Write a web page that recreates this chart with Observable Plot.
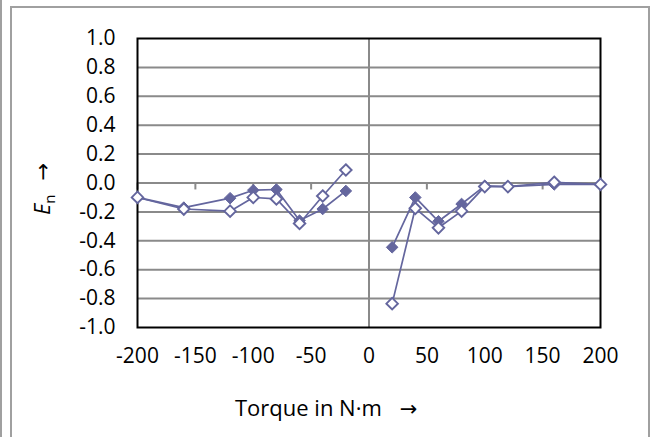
<!DOCTYPE html>
<html>
<head>
<meta charset="utf-8">
<script src="https://cdn.jsdelivr.net/npm/d3@7"></script>
<script src="https://cdn.jsdelivr.net/npm/@observablehq/plot@0.6"></script>
<style>
  html, body { margin: 0; padding: 0; background: #fff; }
  #wrap { position: relative; width: 655px; height: 437px; overflow: hidden; }
  .fl { position: absolute; background: #a0a0a0; }
</style>
</head>
<body>
<div id="wrap">
  <div class="fl" style="left:0px; top:0px; width:2px; height:437px;"></div>
  <div class="fl" style="left:10px; top:6px; width:2px; height:431px;"></div>
  <div class="fl" style="left:10px; top:6px; width:640px; height:2px;"></div>
  <div class="fl" style="left:648px; top:6px; width:2px; height:431px;"></div>
</div>
<script>
const torque = [-200, -160, -120, -100, -80, -60, -40, -20, 20, 40, 60, 80, 100, 120, 160, 200];
const enFilled = [-0.10, -0.17, -0.105, -0.05, -0.045, -0.26, -0.18, -0.055, -0.445, -0.10, -0.265, -0.145, -0.02, -0.025, -0.01, -0.01];
const enOpen = [-0.10, -0.18, -0.195, -0.10, -0.11, -0.28, -0.09, 0.09, -0.835, -0.175, -0.31, -0.195, -0.025, -0.025, 0.005, -0.01];
const xTicks = [-200, -150, -100, -50, 0, 50, 100, 150, 200];
const yTicks = [-1.0, -0.8, -0.6, -0.4, -0.2, 0.0, 0.2, 0.4, 0.6, 0.8, 1.0];
const xLabel = "Torque in N·m";
const yLabelMain = "E";
const yLabelSub = "n";
const arrow = "→";

const color = "#64669e";
const font = "'Open Sans', sans-serif";
const filledData = torque.map((t, i) => ({x: t, y: enFilled[i], seg: t < 0 ? "L" : "R"}));
const openData = torque.map((t, i) => ({x: t, y: enOpen[i], seg: t < 0 ? "L" : "R"}));

const chart = Plot.plot({
  width: 655,
  height: 437,
  marginLeft: 137,
  marginRight: 55,
  marginTop: 38,
  marginBottom: 110,
  style: {fontFamily: font, fontSize: "21px", color: "#000", background: "transparent", overflow: "visible"},
  x: {domain: [-200, 200], label: null},
  y: {domain: [-1, 1], label: null},
  marks: [
    Plot.ruleY(yTicks.filter(v => Math.abs(v) < 0.99), {y: d => d, stroke: "#8a8a8a", strokeWidth: 2}),
    Plot.ruleX([0], {x: d => d, stroke: "#8a8a8a", strokeWidth: 2}),
    Plot.ruleX(xTicks, {x: d => d, y1: 0, y2: -0.048, stroke: "#8a8a8a", strokeWidth: 2}),
    Plot.frame({stroke: "#000", strokeWidth: 2}),
    Plot.axisX({ticks: xTicks, tickFormat: d => String(d), tickSize: 0, tickPadding: 21, fontSize: 21, fill: "#000", label: null}),
    Plot.axisY({ticks: yTicks, tickFormat: d => d.toFixed(1), tickSize: 0, tickPadding: 22, fontSize: 21, fill: "#000", label: null}),
    Plot.line(filledData, {x: "x", y: "y", z: "seg", stroke: color, strokeWidth: 1.7}),
    Plot.dot(filledData, {x: "x", y: "y", symbol: "diamond2", r: 5.2, fill: color, stroke: color, strokeWidth: 1}),
    Plot.line(openData, {x: "x", y: "y", z: "seg", stroke: color, strokeWidth: 1.7}),
    Plot.dot(openData, {x: "x", y: "y", symbol: "diamond2", r: 5.2, fill: "#fff", stroke: color, strokeWidth: 1.9})
  ]
});
chart.style.position = "absolute";
chart.style.left = "0px";
chart.style.top = "0px";
document.getElementById("wrap").appendChild(chart);

const svg = d3.select(chart);
const xl = svg.append("text")
  .attr("x", 235)
  .attr("y", 410)
  .attr("text-anchor", "start")
  .attr("dominant-baseline", "middle")
  .attr("font-size", 22)
  .attr("font-family", font)
  .attr("fill", "#000");
xl.append("tspan").text(xLabel);
xl.append("tspan").attr("dx", 18).attr("font-family", "'DejaVu Sans', sans-serif").attr("font-size", 21).text(arrow);

const yl = svg.append("text")
  .attr("transform", "translate(50,189) rotate(-90)")
  .attr("text-anchor", "middle")
  .attr("font-size", 22)
  .attr("font-family", font)
  .attr("fill", "#000");
yl.append("tspan").attr("font-style", "italic").text(yLabelMain);
yl.append("tspan").attr("font-size", 15).attr("dy", 5).text(yLabelSub);
yl.append("tspan").attr("dy", -5).attr("dx", 14).attr("font-family", "'DejaVu Sans', sans-serif").attr("font-size", 21).text(arrow);
</script>
</body>
</html>
